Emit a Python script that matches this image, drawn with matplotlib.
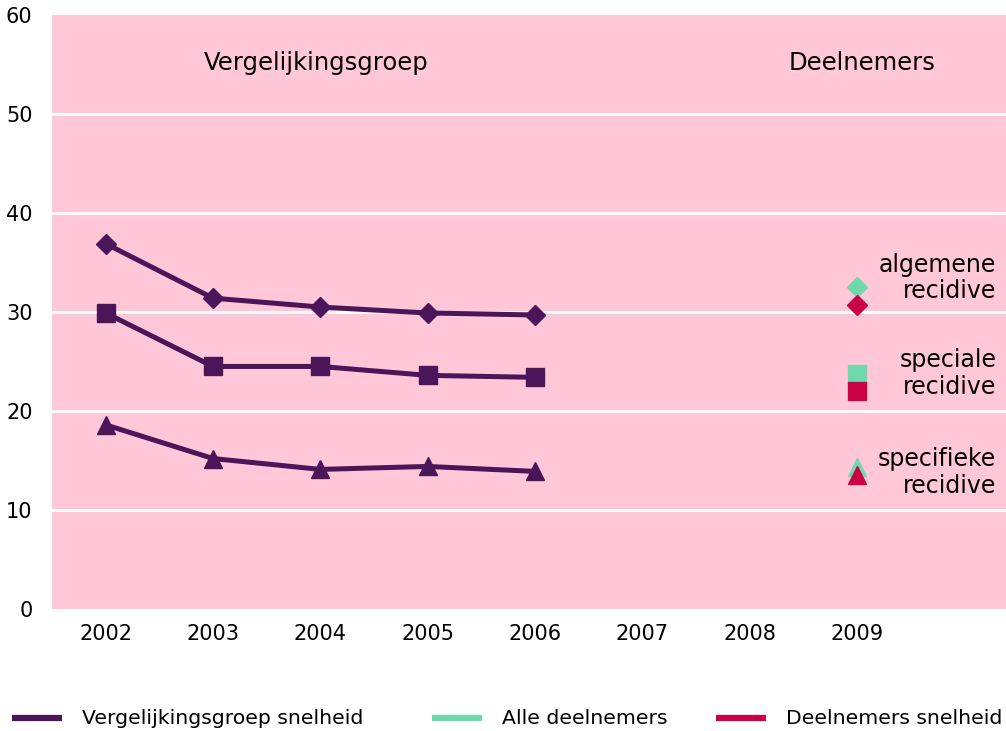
import numpy as np
import matplotlib
import matplotlib.pyplot as plt
from matplotlib.lines import Line2D

matplotlib.use("Agg")

# Data
years = ["2002", "2003", "2004", "2005", "2006", "2007", "2008", "2009"]
vg_algemeen = [36.9, 31.4, 30.5, 29.9, 29.7]
vg_speciaal = [29.9, 24.5, 24.5, 23.6, 23.4]
vg_specifiek = [18.6, 15.2, 14.1, 14.4, 13.9]
alle_deelnemers = [32.5, 23.7, 14.3]  # 2009: algemeen, speciaal, specifiek
deelnemers_snel = [30.7, 22.0, 13.5]
labels_right = ["algemene\nrecidive", "speciale\nrecidive", "specifieke\nrecidive"]
label_y = [33.4, 23.8, 13.8]
legend_names = ["Vergelijkingsgroep snelheid", "Alle deelnemers", "Deelnemers snelheid"]

purple = "#4a1559"
green = "#6fd9ad"
red = "#cc0044"
pink = "#ffc7d8"

W, H = 1006, 731
fig = plt.figure(figsize=(W / 100, H / 100), dpi=100)
ax = fig.add_axes((52 / W, 122 / H, 954 / W, 594 / H))
ax.set_facecolor(pink)

x = np.arange(len(years))
xv = x[:5]
ax.plot(xv, vg_algemeen, color=purple, lw=3.6, marker="D", ms=10.5, zorder=3)
ax.plot(xv, vg_speciaal, color=purple, lw=3.6, marker="s", ms=13, zorder=3)
ax.plot(xv, vg_specifiek, color=purple, lw=3.6, marker="^", ms=13.5, zorder=3)

markers = ["D", "s", "^"]
sizes = [10.5, 13, 13.5]
for i in range(3):
    ax.plot(x[7], alle_deelnemers[i], marker=markers[i], ms=sizes[i], color=green, ls="none", zorder=3)
    ax.plot(x[7], deelnemers_snel[i], marker=markers[i], ms=sizes[i], color=red, ls="none", zorder=4)
    ax.text(8.30, label_y[i], labels_right[i], ha="right", va="center",
            fontsize=17, family="DejaVu Sans", linespacing=1.12)

ax.text(1.96, 55.2, "Vergelijkingsgroep", ha="center", va="center", fontsize=17.5, family="DejaVu Sans")
ax.text(7.05, 55.2, "Deelnemers", ha="center", va="center", fontsize=17.5, family="DejaVu Sans")

ax.set_ylim(0, 60)
ax.set_xlim(-0.5, 8.39)
ax.set_yticks(np.arange(0, 61, 10))
ax.set_xticks(x)
ax.set_xticklabels(years)
for yv in range(10, 60, 10):
    ax.axhline(yv, color="white", lw=2, zorder=1)
for s in ax.spines.values():
    s.set_visible(False)
ax.tick_params(length=0, labelsize=15, pad=11)
ax.tick_params(axis="y", pad=14)

# legend drawn by hand along the bottom
leg_x = [12, 432, 716]
leg_y = 1 - 718 / H
colors = [purple, green, red]
for lx, c, name in zip(leg_x, colors, legend_names):
    fig.add_artist(Line2D([lx / W, (lx + 50) / W], [leg_y, leg_y], color=c, lw=4.5,
                          solid_capstyle="butt", transform=fig.transFigure))
    fig.text((lx + 70) / W, leg_y, name, ha="left", va="center", fontsize=14.7, family="DejaVu Sans")

fig.savefig("out.png", dpi=100)
